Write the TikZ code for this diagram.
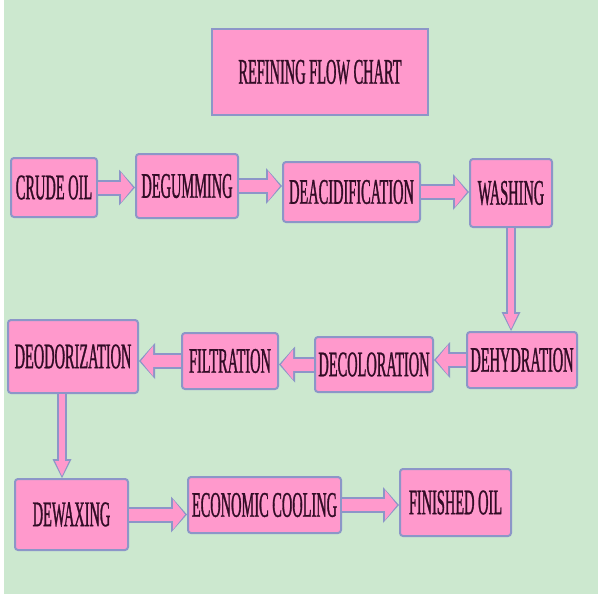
\documentclass[tikz,border=0pt]{standalone}
\usepackage{fontspec}
\usetikzlibrary{arrows.meta}
\newfontfamily\chartfont[FakeStretch=0.4,FakeBold=0.8]{Liberation Serif}
\definecolor{bggreen}{RGB}{204,232,207}
\definecolor{boxpink}{RGB}{255,153,204}
\definecolor{rimblue}{RGB}{140,150,200}
\definecolor{inkdark}{RGB}{50,12,38}
\tikzset{
  stage/.style={draw=rimblue, line width=2pt, fill=boxpink, rounded corners=3pt,
    text=inkdark, inner sep=0pt, font={\chartfont\fontsize{36}{36}\selectfont}},
  rimwide/.style={draw=rimblue, line width=16pt, -{Triangle[length=16pt,width=36pt,line width=0pt]}},
  bodywide/.style={draw=boxpink, line width=12pt, shorten >=2pt, -{Triangle[length=12pt,width=30pt,line width=0pt]}},
  rimthin/.style={draw=rimblue, line width=10pt, -{Triangle[length=19pt,width=19pt,line width=0pt]}},
  bodythin/.style={draw=boxpink, line width=6.5pt, shorten >=2pt, -{Triangle[length=15pt,width=14pt,line width=0pt]}}
}
\newcommand{\blockarrow}[2][wide]{\draw[rim#1] #2; \draw[body#1] #2;}
\begin{document}
\begin{tikzpicture}[x=1pt, y=-1pt]
\useasboundingbox[fill=white] (0,0) rectangle (600,600);
\fill[bggreen] (4,0) rectangle (598,594);
% title
\node[stage, rounded corners=0pt, minimum width=216pt, minimum height=86pt] (title) at (320,72) {REFINING FLOW CHART};
% first row
\node[stage, minimum width=86pt, minimum height=59pt] (crude) at (54,187.5) {CRUDE OIL};
\node[stage, minimum width=102pt, minimum height=64pt] (degum) at (187,186) {DEGUMMING};
\node[stage, minimum width=137pt, minimum height=60pt] (deacid) at (351.5,192) {DEACIDIFICATION};
\node[stage, minimum width=82pt, minimum height=68pt] (wash) at (511,193) {WASHING};
% second row
\node[stage, minimum width=110pt, minimum height=56pt] (dehyd) at (522,360) {DEHYDRATION};
\node[stage, minimum width=118pt, minimum height=55pt] (decol) at (374,364.5) {DECOLORATION};
\node[stage, minimum width=96pt, minimum height=56pt] (filt) at (230,361) {FILTRATION};
\node[stage, minimum width=130pt, minimum height=73pt] (deodor) at (73,356.5) {DEODORIZATION};
% third row
\node[stage, minimum width=113pt, minimum height=71pt] (dewax) at (71.5,514.5) {DEWAXING};
\node[stage, minimum width=153pt, minimum height=56pt] (cool) at (264.5,505) {ECONOMIC COOLING};
\node[stage, minimum width=111pt, minimum height=67pt] (finish) at (455.5,502.5) {FINISHED OIL};
% arrows
\blockarrow{(crude.east) -- (crude.east -| degum.west)}
\blockarrow{(degum.east) -- (degum.east -| deacid.west)}
\blockarrow{(deacid.east) -- (deacid.east -| wash.west)}
\blockarrow[thin]{(wash.south) -- (wash.south |- dehyd.north)}
\blockarrow{(dehyd.west) -- (dehyd.west -| decol.east)}
\blockarrow{(decol.west) -- (decol.west -| filt.east)}
\blockarrow{(filt.west) -- (filt.west -| deodor.east)}
\coordinate (drop) at ([xshift=-11pt]deodor.south);
\blockarrow[thin]{(drop) -- (drop |- dewax.north)}
\blockarrow{(dewax.east) -- (dewax.east -| cool.west)}
\blockarrow{(cool.east) -- (cool.east -| finish.west)}
\end{tikzpicture}
\end{document}
